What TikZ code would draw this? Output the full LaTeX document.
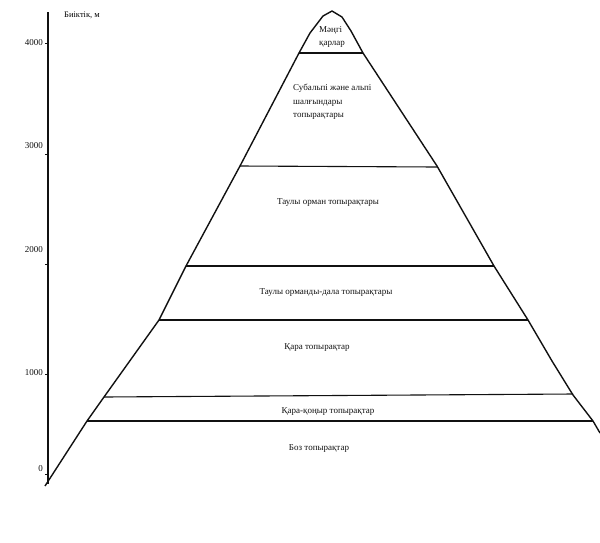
\documentclass[tikz,border=0pt]{standalone}
\usepackage{fontspec}
\setmainfont{Liberation Serif}
\usetikzlibrary{calc}
\definecolor{inkblack}{HTML}{111111}

\tikzset{
  zonelabel/.style={font=\fontsize{9}{13.5}\selectfont, text=inkblack, inner sep=0pt},
  ticklabel/.style={font=\fontsize{9}{10}\selectfont, text=inkblack, anchor=east, inner sep=0pt},
  zoneline/.style={line width=1.1pt, inkblack}
}

\begin{document}
\begin{tikzpicture}[x=1pt, y=-1pt]
          \useasboundingbox (0,0) rectangle (600,542);

          % Eje de altura
          \draw[line width=1.3pt, inkblack] (48,12) -- (48,484);
          \node[font=\fontsize{8.5}{10}\selectfont, anchor=west, inner sep=0pt] (axislabel) at (64,15) {Биіктік, м};
          \foreach \h/\yy/\ly in {4000/43/43, 3000/154/146, 2000/264/250, 1000/374/373, 0/474/469}
            {
              \draw[line width=0.8pt, inkblack] (45,\yy) -- (48,\yy);
              \node[ticklabel] (tick\h) at (43,\ly) {\h};
            }

          % Silueta de la montaña
          \draw[line width=1.4pt, inkblack, line join=round]
            (45,486) -- (87,421) -- (104,397) -- (159,320) -- (186,266)
            -- (240,166) -- (299,53) -- (310,33) -- (323,16) -- (332,11) -- (342,17)
            -- (351,31) -- (363,53) -- (437,166) -- (494,266) -- (528,320)
            -- (552,361) -- (573,395) -- (593,421) -- (600,433);

          % Límites entre zonas
          \draw[zoneline] (299,53) -- (363,53);
          \draw[zoneline] (240,166) -- (437,167);
          \draw[zoneline] (186,266) -- (494,266);
          \draw[zoneline] (159,320) -- (528,320);
          \draw[zoneline] (104,397) -- (573,394);
          \draw[zoneline] (87,421) -- (593,421);

          % Zonas de suelo
          \node[zonelabel, align=left, anchor=north west] (snow) at (319,26) {Мәңгі\\қарлар};
          \node[zonelabel, align=left, anchor=north west] (alpine) at (293,84) {Субальпі және альпі\\шалғындары\\топырақтары};
          \node[zonelabel] (forest) at (328,203) {Таулы орман топырақтары};
          \node[zonelabel] (steppe) at (326,293) {Таулы орманды-дала топырақтары};
          \node[zonelabel] (chernozem) at (317,348) {Қара топырақтар};
          \node[zonelabel] (chestnut) at (328,412) {Қара-қоңыр топырақтар};
          \node[zonelabel] (sierozem) at (319,449) {Боз топырақтар};
        \end{tikzpicture}
\end{document}
